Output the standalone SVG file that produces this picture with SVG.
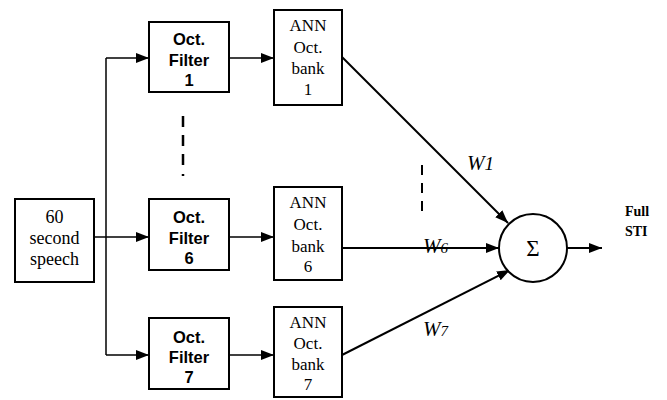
<svg xmlns="http://www.w3.org/2000/svg" width="667" height="400" viewBox="0 0 667 400">
<style>
.box{fill:#fff;stroke:#000;stroke-width:2}
.ln{fill:none;stroke:#000;stroke-width:1.5}
.ln2{fill:none;stroke:#000;stroke-width:2}
.dash{stroke:#000;stroke-width:2.5;stroke-dasharray:11 8}
.sans{font-family:"Liberation Sans",Arial,sans-serif;font-weight:bold;font-size:16.5px;text-anchor:middle}
.serif{font-family:"Liberation Serif","Times New Roman",serif;font-size:17px;text-anchor:middle}
.src{font-family:"Liberation Serif","Times New Roman",serif;font-size:18px;text-anchor:middle}
.w{font-family:"Liberation Serif","Times New Roman",serif;font-style:italic;font-size:21px}
.out{font-family:"Liberation Serif","Times New Roman",serif;font-weight:bold;font-size:14px}
</style>
<defs>
<marker id="ah" markerUnits="userSpaceOnUse" markerWidth="14" markerHeight="12" refX="13" refY="5" orient="auto">
<path d="M0,0 L13,5 L0,10 Z" fill="#000"/>
</marker>
</defs>
<rect width="667" height="400" fill="#fff"/>
<g id="connectors">
<line class="ln" x1="94" y1="237" x2="106" y2="237"/>
<line class="ln" x1="106" y1="58" x2="106" y2="355"/>
<line class="ln" x1="106" y1="58" x2="149" y2="58" marker-end="url(#ah)"/>
<line class="ln" x1="106" y1="237" x2="149" y2="237" marker-end="url(#ah)"/>
<line class="ln" x1="106" y1="355" x2="149" y2="355" marker-end="url(#ah)"/>
<line class="ln" x1="229" y1="58" x2="274" y2="58" marker-end="url(#ah)"/>
<line class="ln" x1="229" y1="237" x2="274" y2="237" marker-end="url(#ah)"/>
<line class="ln" x1="229" y1="355" x2="274" y2="355" marker-end="url(#ah)"/>
<line class="ln2" x1="342" y1="57" x2="508" y2="223" marker-end="url(#ah)"/>
<line class="ln2" x1="342" y1="248" x2="499" y2="248" marker-end="url(#ah)"/>
<line class="ln2" x1="342" y1="355" x2="510" y2="270" marker-end="url(#ah)"/>
<line class="ln2" x1="567" y1="248" x2="602" y2="248" marker-end="url(#ah)"/>
<line class="dash" x1="183" y1="116" x2="183" y2="168"/>
<line class="dash" x1="183" y1="174" x2="183" y2="176"/>
<line class="dash" x1="422" y1="165" x2="422" y2="213" style="stroke-width:2;stroke-dasharray:10 8"/>
</g>
<g id="speech">
<rect class="box" x="15" y="199" width="79" height="83"/>
<text class="src" x="54.5" y="223">60</text>
<text class="src" x="54.5" y="244">second</text>
<text class="src" x="54.5" y="265">speech</text>
</g>
<g id="filter1">
<rect class="box" x="149" y="22" width="80" height="70"/>
<text class="sans" x="189" y="45">Oct.</text>
<text class="sans" x="189" y="66">Filter</text>
<text class="sans" x="189" y="86">1</text>
</g>
<g id="filter6">
<rect class="box" x="149" y="199" width="80" height="71"/>
<text class="sans" x="189" y="223">Oct.</text>
<text class="sans" x="189" y="244">Filter</text>
<text class="sans" x="189" y="264">6</text>
</g>
<g id="filter7">
<rect class="box" x="149" y="318" width="80" height="71"/>
<text class="sans" x="189" y="343">Oct.</text>
<text class="sans" x="189" y="363">Filter</text>
<text class="sans" x="189" y="383">7</text>
</g>
<g id="ann1">
<rect class="box" x="274" y="10" width="68" height="95"/>
<text class="serif" x="308" y="31">ANN</text>
<text class="serif" x="308" y="53">Oct.</text>
<text class="serif" x="308" y="74">bank</text>
<text class="serif" x="308" y="95">1</text>
</g>
<g id="ann6">
<rect class="box" x="274" y="187" width="68" height="93"/>
<text class="serif" x="308" y="208">ANN</text>
<text class="serif" x="308" y="230">Oct.</text>
<text class="serif" x="308" y="252">bank</text>
<text class="serif" x="308" y="272">6</text>
</g>
<g id="ann7">
<rect class="box" x="274" y="307" width="68" height="90"/>
<text class="serif" x="308" y="328">ANN</text>
<text class="serif" x="308" y="349">Oct.</text>
<text class="serif" x="308" y="370">bank</text>
<text class="serif" x="308" y="390">7</text>
</g>
<g id="sum">
<circle cx="533" cy="248" r="34" fill="#fff" stroke="#000" stroke-width="2"/>
<text x="533" y="256" style="font-family:'Liberation Serif','Times New Roman',serif;font-size:23px;text-anchor:middle">Σ</text>
</g>
<g id="labels">
<text class="w" x="467" y="170">W<tspan font-size="19">1</tspan></text>
<text class="w" x="423" y="253">W<tspan font-size="15">6</tspan></text>
<text class="w" x="423" y="336">W<tspan font-size="15">7</tspan></text>
<text class="out" x="625" y="216">Full</text>
<text class="out" x="625" y="236">STI</text>
</g>
</svg>
